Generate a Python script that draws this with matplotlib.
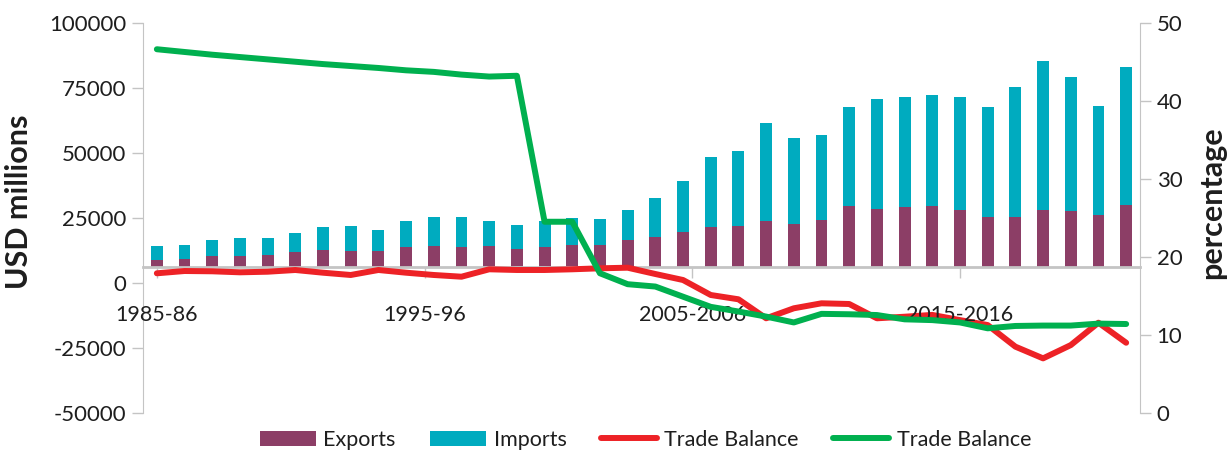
import matplotlib
matplotlib.use("Agg")
import matplotlib.pyplot as plt
import numpy as np

plt.rcParams['font.family'] = ['Lato', 'DejaVu Sans']

# fiscal years, one bar each
categories = [
    "1985-86", "1986-87", "1987-88", "1988-89", "1989-90", "1990-91",
    "1991-92", "1992-93", "1993-94", "1994-95", "1995-96", "1996-97",
    "1997-98", "1998-99", "1999-00", "2000-01", "2001-02", "2002-03",
    "2003-04", "2004-05", "2005-2006", "2006-2007", "2007-2008", "2008-2009",
    "2009-2010", "2010-2011", "2011-2012", "2012-2013", "2013-2014", "2014-2015",
    "2015-2016", "2016-2017", "2017-2018", "2018-2019", "2019-2020", "2020-2021",
]
tick_labels = ["1985-86", "1995-96", "2005-2006", "2015-2016"]

# USD millions
exports = [8800, 9190, 10340, 10340, 10720, 11990, 12760, 12260, 12260, 13800,
           14180, 13800, 14300, 13030, 13800, 14570, 14570, 16600, 17640, 19680,
           21480, 21870, 23790, 22750, 24170, 29670, 28400, 29170, 29670, 28020,
           25330, 25330, 28020, 27630, 26100, 29940]
imports = [5380, 5380, 6150, 6920, 6540, 7190, 8720, 9610, 8070, 9990,
           11150, 11530, 9490, 9220, 9990, 10370, 9990, 11420, 14990, 19480,
           26910, 28820, 37660, 32940, 32670, 37930, 42280, 42280, 42540, 43430,
           42270, 49960, 57260, 51500, 41880, 53040]
trade_balance = [3690, 4570, 4460, 4070, 4300, 4960, 3920, 3040, 4960, 3920,
                 3040, 2380, 5230, 4960, 4960, 5230, 5610, 5840, 3420, 1110,
                 -4650, -6300, -13600, -9760, -7840, -8110, -13600, -13000, -12300, -14300,
                 -16200, -24500, -29000, -23900, -15300, -23000]
# percentage, right axis
pct = [46.6, 46.25, 45.9, 45.6, 45.3, 45.0, 44.7, 44.45, 44.2, 43.9,
       43.7, 43.35, 43.1, 43.2, 24.5, 24.5, 17.9, 16.5, 16.2, 14.9,
       13.6, 13.0, 12.35, 11.6, 12.7, 12.65, 12.55, 12.0, 11.9, 11.6,
       10.85, 11.15, 11.2, 11.2, 11.45, 11.4]

axis_cross = 6100   # horizontal axis crosses the left axis here
exp_c = '#8c3e66'
imp_c = '#00abbf'
red = '#ed2226'
green = '#00b04f'
grey = '#c4c4c4'
txt = '#1e1e1e'

x = np.arange(len(categories))
exp_arr = np.array(exports)

fig = plt.figure(figsize=(12.28, 4.53), dpi=100)
ax = fig.add_axes([143 / 1228, 1 - 413 / 453, 997 / 1228, 390.3 / 453])
ax2 = ax.twinx()

b1 = ax.bar(x, exp_arr - axis_cross, width=0.43, bottom=axis_cross, color=exp_c, zorder=2)
b2 = ax.bar(x, imports, width=0.43, bottom=exp_arr, color=imp_c, zorder=2)
l1, = ax.plot(x, trade_balance, color=red, lw=4.3, solid_capstyle='round',
              solid_joinstyle='round', zorder=3)
l2, = ax2.plot(x, pct, color=green, lw=4.3, solid_capstyle='round',
               solid_joinstyle='round', zorder=3)

ax.set_xlim(-0.5, len(categories) - 0.5)
ax.set_ylim(-50000, 100000)
ax2.set_ylim(0, 50)

yt = list(range(-50000, 100001, 25000))
ax.set_yticks(yt, [str(v) for v in yt])
ax2.set_yticks(range(0, 51, 10), [str(v) for v in range(0, 51, 10)])

# category ticks where the reference puts them
tick_pos = [0, 9.67, 19.33, 29.0]
ax.set_xticks(tick_pos, tick_labels)

for a in (ax, ax2):
    a.spines['top'].set_visible(False)
ax.spines['right'].set_visible(False)
ax2.spines['left'].set_visible(False)
ax.spines['left'].set_color(grey)
ax2.spines['right'].set_color(grey)
ax.spines['bottom'].set_position(('data', axis_cross))
ax.spines['bottom'].set_color(grey)
ax.spines['bottom'].set_linewidth(2)

ax.tick_params(axis='y', length=8, width=1, color=grey, pad=4, labelsize=16, labelcolor=txt)
ax2.tick_params(axis='y', length=8, width=1, color=grey, pad=4, labelsize=16, labelcolor=txt)
ax.tick_params(axis='x', length=8, width=1, color=grey, labelbottom=False)

# x labels on the top axes so they sit above the lines
ax2.xaxis.set_visible(True)
ax2.spines['bottom'].set_visible(False)
ax2.spines['bottom'].set_position(('axes', (axis_cross + 50000) / 150000))
ax2.tick_params(axis='x', length=0, pad=27, labelsize=15.5, labelcolor=txt)

ax.set_ylabel('USD millions', fontsize=22, fontweight='bold', color=txt)
ax.yaxis.set_label_coords(-0.110, 0.54)
ax2.set_ylabel('percentage', fontsize=22, fontweight='bold', color=txt)
ax2.yaxis.set_label_coords(1.058, 0.54)

fig.legend([b1, b2, l1, l2], ['Exports', 'Imports', 'Trade Balance', 'Trade Balance'],
           loc='center', bbox_to_anchor=(645.5 / 1228, 1 - 440 / 453), ncol=4,
           frameon=False, fontsize=15.5, handlelength=2.6, handleheight=0.72,
           handletextpad=0.35, columnspacing=1.6, labelcolor=txt)

fig.savefig('out.png', dpi=100)
